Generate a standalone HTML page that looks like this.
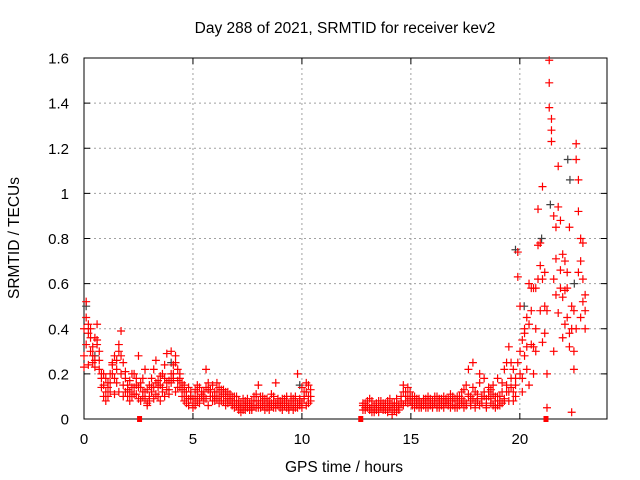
<!DOCTYPE html>
<html><head><meta charset="utf-8"><style>
html,body{margin:0;padding:0;background:#fff}
svg{display:block;font-family:"Liberation Sans",sans-serif}
</style></head><body>
<svg id="chart" width="640" height="480" viewBox="0 0 640 480" xmlns="http://www.w3.org/2000/svg">
<text x="345" y="33" font-size="15.5" text-anchor="middle">Day 288 of 2021, SRMTID for receiver kev2</text>
<text x="19" y="238" font-size="15.5" text-anchor="middle" transform="rotate(-90 19 238)">SRMTID / TECUs</text>
<text x="344" y="472" font-size="15.5" text-anchor="middle">GPS time / hours</text>
<g id="grid"></g>
<g id="axes"></g>
<g id="marks"></g>
</svg>
<script>
const xTicks=[0,5,10,15,20];
const yTicks=[0,0.2,0.4,0.6,0.8,1,1.2,1.4,1.6];
const yTickLabels=["0","0.2","0.4","0.6","0.8","1","1.2","1.4","1.6"];
const timesA=[];for(let i=0;i<=104;i++)timesA.push(+(i*0.1).toFixed(2));
const timesB=[];for(let i=0;i<=99;i++)timesB.push(+(12.8+i*0.103).toFixed(3));
const a1=[0.40,0.52,0.38,0.30,0.25,0.36,0.33,0.22,0.18,0.15,0.12,0.14,0.20,0.24,0.28,0.22,0.30,0.39,0.25,0.18,0.15,0.12,0.10,0.14,0.18,0.28,0.16,0.12,0.09,0.13,0.15,0.18,0.22,0.16,0.14,0.19,0.12,0.24,0.29,0.17,0.20,0.24,0.28,0.22,0.18,0.16,0.12,0.10,0.14,0.09,0.07,0.10,0.12,0.09,0.11,0.08,0.22,0.13,0.10,0.15,0.12,0.09,0.14,0.10,0.08,0.12,0.09,0.11,0.07,0.10,0.08,0.06,0.05,0.04,0.06,0.09,0.07,0.05,0.10,0.08,0.15,0.07,0.06,0.09,0.05,0.08,0.07,0.10,0.16,0.06,0.08,0.06,0.09,0.05,0.07,0.10,0.06,0.08,0.20,0.09,0.14,0.12,0.16,0.10,0.13];
const a2=[0.28,0.45,0.42,0.40,0.32,0.26,0.42,0.30,0.14,0.20,0.18,0.10,0.16,0.20,0.18,0.26,0.33,0.20,0.15,0.12,0.10,0.17,0.14,0.20,0.11,0.14,0.08,0.18,0.22,0.07,0.10,0.12,0.14,0.26,0.10,0.15,0.20,0.18,0.13,0.11,0.30,0.18,0.25,0.14,0.20,0.13,0.15,0.07,0.09,0.12,0.05,0.13,0.08,0.14,0.10,0.12,0.09,0.16,0.13,0.08,0.10,0.16,0.07,0.13,0.11,0.06,0.12,0.08,0.10,0.05,0.10,0.08,0.03,0.06,0.08,0.05,0.04,0.08,0.06,0.11,0.05,0.10,0.08,0.04,0.09,0.06,0.11,0.05,0.07,0.09,0.05,0.09,0.07,0.08,0.04,0.06,0.09,0.05,0.07,0.06,0.07,0.09,0.06,0.15,0.08];
const a3=[0.23,0.33,0.24,0.36,0.28,0.23,0.35,0.26,0.20,0.10,0.08,0.16,0.12,0.25,0.11,0.16,0.12,0.28,0.10,0.21,0.13,0.08,0.20,0.11,0.15,0.09,0.14,0.10,0.12,0.06,0.08,0.14,0.09,0.11,0.17,0.08,0.14,0.10,0.16,0.13,0.16,0.20,0.12,0.17,0.14,0.10,0.08,0.12,0.06,0.10,0.09,0.06,0.15,0.07,0.12,0.10,0.14,0.06,0.12,0.10,0.08,0.12,0.10,0.08,0.13,0.10,0.07,0.09,0.06,0.08,0.06,0.04,0.07,0.09,0.04,0.07,0.06,0.04,0.08,0.05,0.08,0.05,0.10,0.06,0.07,0.04,0.06,0.08,0.05,0.07,0.07,0.04,0.06,0.10,0.05,0.08,0.04,0.10,0.05,0.08,0.05,0.10,0.12,0.07,0.10];
const b1=[0.06,0.05,0.08,0.04,0.06,0.03,0.07,0.05,0.08,0.04,0.06,0.05,0.09,0.04,0.07,0.03,0.06,0.08,0.12,0.10,0.14,0.09,0.07,0.10,0.06,0.08,0.05,0.09,0.07,0.10,0.06,0.08,0.07,0.10,0.05,0.09,0.07,0.08,0.06,0.11,0.08,0.06,0.10,0.07,0.12,0.08,0.15,0.22,0.10,0.25,0.12,0.08,0.16,0.10,0.18,0.09,0.12,0.07,0.15,0.10,0.18,0.08,0.12,0.22,0.15,0.32,0.25,0.12,0.18,0.74,0.50,0.35,0.28,0.45,0.60,0.33,0.20,0.58,0.93,0.78,1.03,0.65,0.48,1.59,1.33,0.90,0.71,1.12,0.88,0.73,0.57,0.45,0.85,0.40,0.30,1.22,1.06,0.70,0.62,0.55];
const b2=[0.04,0.07,0.05,0.09,0.03,0.06,0.04,0.08,0.05,0.07,0.04,0.08,0.05,0.02,0.06,0.09,0.05,0.07,0.15,0.08,0.10,0.12,0.06,0.08,0.09,0.05,0.07,0.06,0.09,0.05,0.09,0.06,0.10,0.05,0.08,0.06,0.10,0.07,0.09,0.05,0.06,0.09,0.05,0.10,0.07,0.13,0.06,0.10,0.08,0.09,0.07,0.11,0.06,0.09,0.12,0.05,0.10,0.13,0.06,0.08,0.06,0.10,0.07,0.09,0.12,0.08,0.14,0.22,0.10,0.63,0.30,0.18,0.40,0.32,0.15,0.48,0.58,0.30,0.77,0.48,0.62,0.38,0.20,1.49,1.23,0.30,0.85,0.94,0.66,0.54,0.42,0.65,0.38,0.50,0.22,1.15,0.92,0.45,0.78,0.48];
const b3=[0.07,0.04,0.06,0.05,0.08,0.04,0.06,0.03,0.06,0.05,0.07,0.03,0.06,0.07,0.04,0.06,0.04,0.10,0.06,0.12,0.07,0.08,0.10,0.05,0.07,0.09,0.06,0.08,0.05,0.08,0.07,0.05,0.08,0.06,0.09,0.07,0.05,0.09,0.07,0.08,0.10,0.05,0.08,0.06,0.09,0.05,0.07,0.11,0.06,0.14,0.05,0.09,0.20,0.07,0.10,0.06,0.14,0.09,0.11,0.05,0.10,0.06,0.16,0.08,0.25,0.12,0.18,0.08,0.15,0.25,0.20,0.12,0.38,0.22,0.42,0.58,0.32,0.40,0.62,0.68,0.34,0.50,0.05,1.38,1.28,0.62,0.55,0.47,0.58,0.36,0.70,0.58,0.32,0.03,0.48,0.40,0.65,0.80,0.52,0.40];
const grayX=[0.1,0.5,4.0,9.9,19.8,20.2,21.4,22.2,22.3,22.5,21.0];
const grayY=[0.50,0.28,0.25,0.15,0.75,0.50,0.95,1.15,1.06,0.60,0.80];
const flagX=[2.55,12.7,21.2];

const L=84,R=607,T=58,B=419,XMAX=24,YMAX=1.6;
const sx=v=>L+v/XMAX*(R-L), sy=v=>B-v/YMAX*(B-T);
const NS="http://www.w3.org/2000/svg";
function mk(tag,attrs,parent){const e=document.createElementNS(NS,tag);for(const k in attrs)e.setAttribute(k,attrs[k]);parent.appendChild(e);return e;}
const grid=document.getElementById('grid'),axes=document.getElementById('axes'),marks=document.getElementById('marks');
xTicks.forEach(t=>{const x=sx(t);
 if(t>0){const g=mk('line',{x1:x,x2:x,y1:T,y2:B,stroke:'#a0a0a0','stroke-dasharray':'2,3'},grid);}
 mk('line',{x1:x,x2:x,y1:B,y2:B-6,stroke:'#000'},axes);mk('line',{x1:x,x2:x,y1:T,y2:T+6,stroke:'#000'},axes);
 const tx=mk('text',{x:x,y:B+25,'font-size':15,'text-anchor':'middle'},axes);tx.textContent=t;
 });
yTicks.forEach((t,i)=>{const y=sy(t);
 if(t>0&&t<1.6){const g=mk('line',{x1:L,x2:R,y1:y,y2:y,stroke:'#a0a0a0','stroke-dasharray':'2,3'},grid);}
 mk('line',{x1:L,x2:L+6,y1:y,y2:y,stroke:'#000'},axes);mk('line',{x1:R,x2:R-6,y1:y,y2:y,stroke:'#000'},axes);
 const tx=mk('text',{x:L-15,y:y+5.5,'font-size':15,'text-anchor':'end'},axes);tx.textContent=yTickLabels[i];
 });
const fr=mk('rect',{x:L,y:T,width:R-L,height:B-T,fill:'none',stroke:'#000'},axes);

function plus(x,y,color,name){const px=sx(x),py=sy(y);
 const p=mk('path',{d:`M${px-4},${py}h8M${px},${py-4}v8`,stroke:color,'stroke-width':1.2,fill:'none'},marks);
 }
grayX.forEach((x,i)=>plus(x,grayY[i],'#404040','gray-point'));
[a1,a2,a3].forEach(arr=>arr.forEach((v,i)=>plus(timesA[i],v,'#ff0000','srmtid-point')));
[b1,b2,b3].forEach(arr=>arr.forEach((v,i)=>plus(timesB[i],v,'#ff0000','srmtid-point')));
flagX.forEach(x=>{const r=mk('rect',{x:sx(x)-2.5,y:B-3,width:5,height:6,fill:'#ff0000'},marks);
 });
</script>
</body></html>
